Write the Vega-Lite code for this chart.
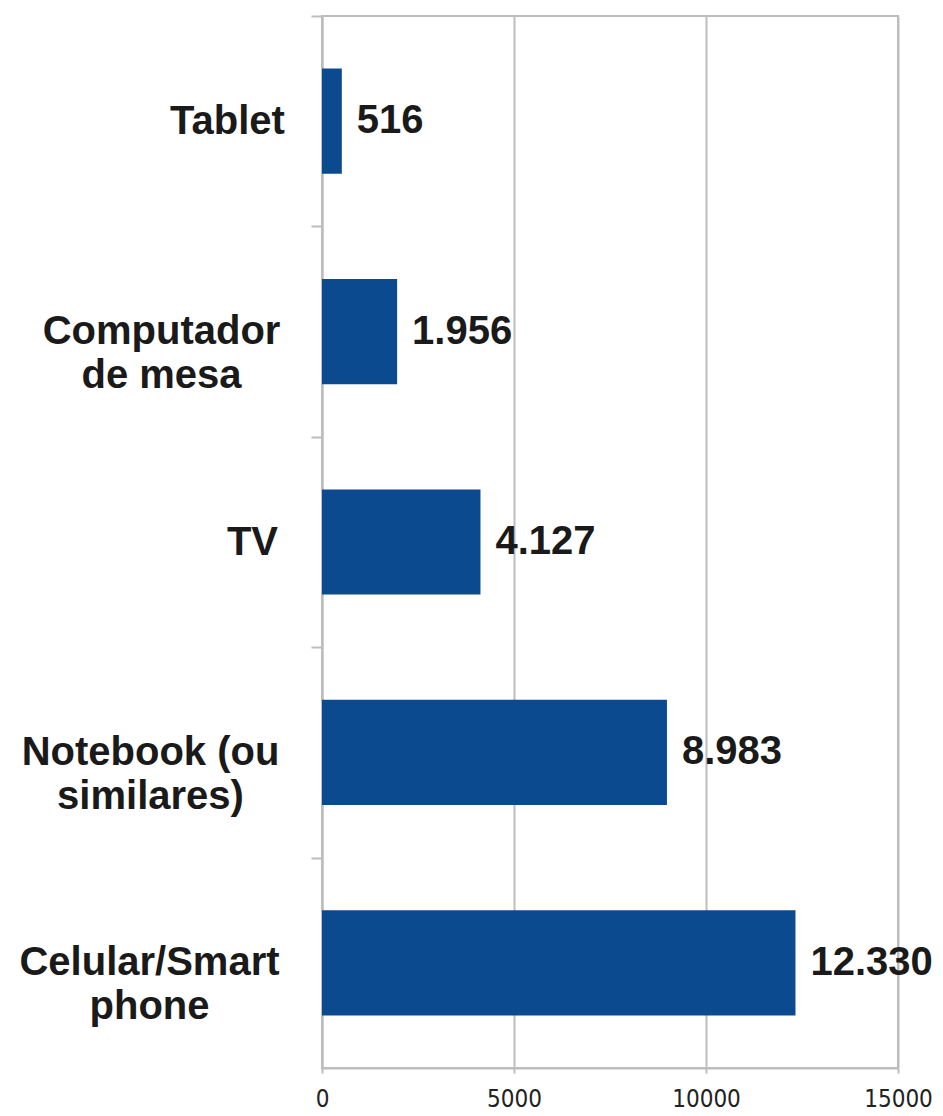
{
  "$schema": "https://vega.github.io/schema/vega-lite/v6.json",
  "width": 576,
  "height": 1052,
  "autosize": "none",
  "padding": {"left": 322, "top": 16, "right": 45, "bottom": 48},
  "background": "white",
  "config": {
    "locale": {"number": {"decimal": ",", "thousands": ".", "grouping": [3], "currency": ["R$", ""]}},
    "view": {"stroke": "#bdbdbd", "strokeWidth": 2},
    "font": "Liberation Sans"
  },
  "data": {
    "values": [
      {"dispositivo": "Tablet", "quantidade": 516},
      {"dispositivo": "Computador de mesa", "quantidade": 1956},
      {"dispositivo": "TV", "quantidade": 4127},
      {"dispositivo": "Notebook (ou similares)", "quantidade": 8983},
      {"dispositivo": "Celular/Smart phone", "quantidade": 12330}
    ]
  },
  "encoding": {
    "y": {
      "field": "dispositivo",
      "type": "nominal",
      "sort": null,
      "scale": {"paddingInner": 0.5, "paddingOuter": 0.25},
      "axis": {
        "title": null,
        "domainColor": "#bdbdbd",
        "domainWidth": 2,
        "tickOffset": -105.2,
        "labelOffset": 105.2,
        "tickColor": "#bdbdbd",
        "tickWidth": 2,
        "tickSize": 11,
        "labelFont": "Liberation Sans",
        "labelFontWeight": "bold",
        "labelFontSize": 40,
        "labelColor": "#1a1a1a",
        "labelLineHeight": 44,
        "labelAlign": "center",
        "labelBaseline": "middle",
        "labelLimit": 400,
        "labelPadding": {
          "condition": [
            {"test": "datum.value === 'Tablet'", "value": 84},
            {"test": "datum.value === 'Computador de mesa'", "value": 150},
            {"test": "datum.value === 'TV'", "value": 59},
            {"test": "datum.value === 'Notebook (ou similares)'", "value": 161}
          ],
          "value": 162
        },
        "labelExpr": "datum.label == 'Computador de mesa' ? ['Computador', 'de mesa'] : datum.label == 'Notebook (ou similares)' ? ['Notebook (ou', 'similares)'] : datum.label == 'Celular/Smart phone' ? ['Celular/Smart', 'phone'] : datum.label"
      }
    },
    "x": {
      "field": "quantidade",
      "type": "quantitative",
      "scale": {"domain": [0, 15000], "nice": false},
      "axis": {
        "title": null,
        "values": [0, 5000, 10000, 15000],
        "format": "d",
        "grid": true,
        "gridColor": "#bdbdbd",
        "gridWidth": 2,
        "domainColor": "#bdbdbd",
        "domainWidth": 2,
        "tickColor": "#bdbdbd",
        "tickWidth": 2,
        "tickSize": 5,
        "labelFont": "DejaVu Sans Condensed, Liberation Sans Narrow, Liberation Sans",
        "labelFontSize": 24,
        "labelColor": "#222222",
        "labelPadding": 14,
        "labelFlush": false
      }
    }
  },
  "layer": [
    {"mark": {"type": "bar", "color": "#0c4a90"}},
    {
      "mark": {"type": "text", "align": "left", "baseline": "middle", "dx": 15, "font": "Liberation Sans", "fontWeight": "bold", "fontSize": 40, "color": "#1a1a1a"},
      "encoding": {"text": {"field": "quantidade", "type": "quantitative", "format": ",d"}}
    }
  ]
}
